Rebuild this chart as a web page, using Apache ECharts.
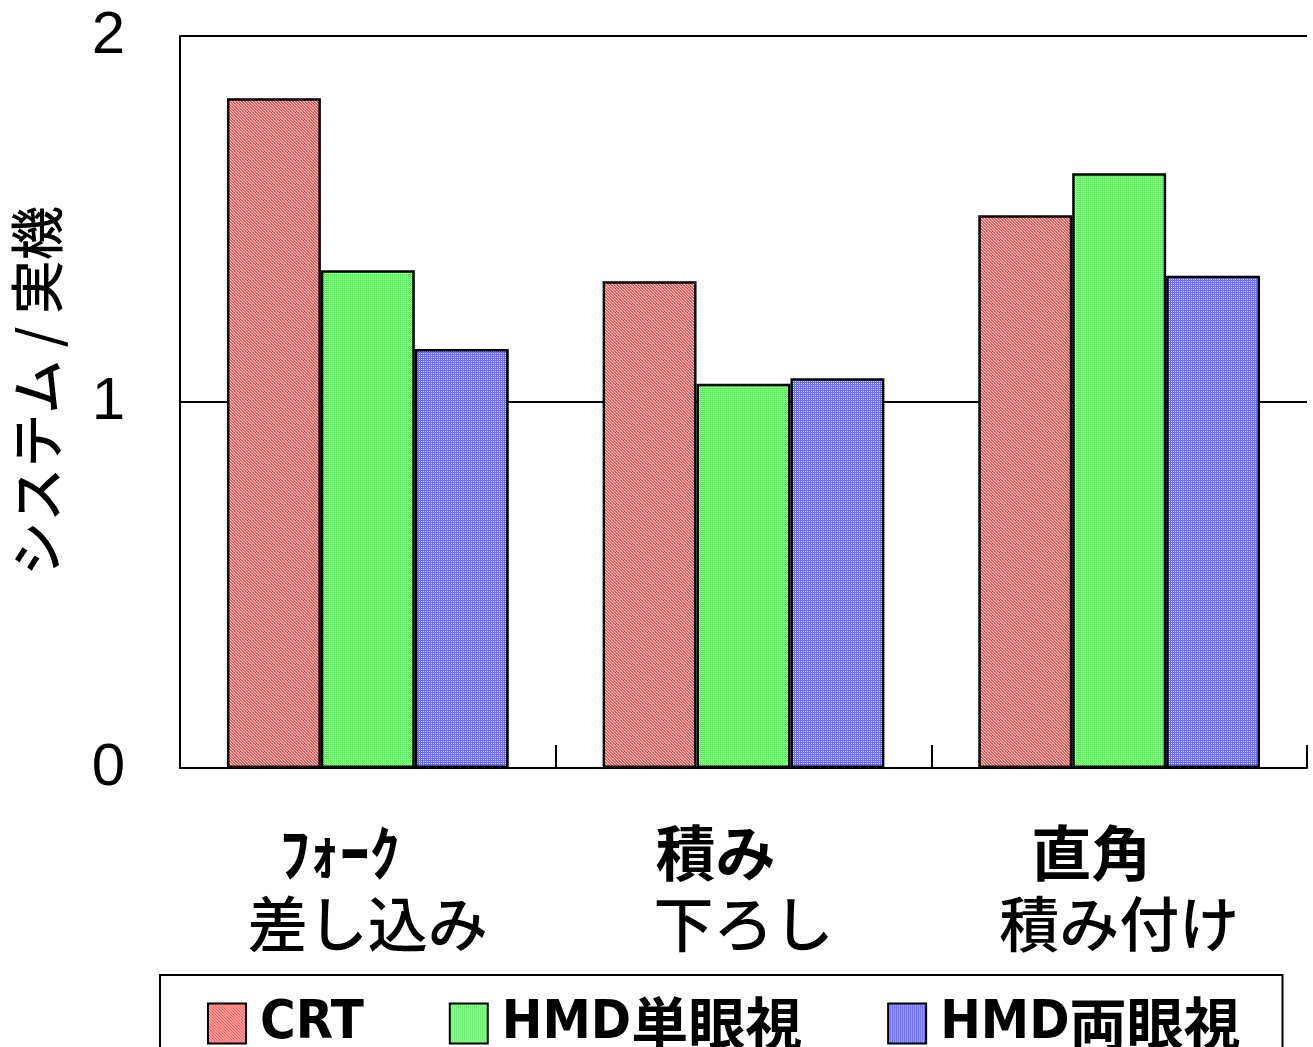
<!DOCTYPE html>
<html>
<head>
<meta charset="utf-8">
<script src="https://cdn.jsdelivr.net/npm/echarts@6/dist/echarts.min.js"></script>
<style>
  html, body { margin: 0; padding: 0; background: #fff; }
  #chart { width: 1313px; height: 1047px; }
</style>
</head>
<body>
<div id="chart"></div>
<script>
// Task categories (two-line labels)
const categoryLine1 = ['ﾌｫｰｸ', '積み', '直角'];
const categoryLine2 = ['差し込み', '下ろし', '積み付け'];

// Ratio of system time to real-machine time
const seriesNames = ['CRT', 'HMD単眼視', 'HMD両眼視'];
const crtValues = [1.83, 1.33, 1.51];
const hmdMonoValues = [1.36, 1.05, 1.625];
const hmdBinoValues = [1.145, 1.065, 1.345];

const yTicks = [0, 1, 2];

// Small dithered fill tiles for the bars
function hatchTile(kind) {
  const c = document.createElement('canvas');
  const size = 6;
  c.width = size; c.height = size;
  const ctx = c.getContext('2d');
  let fg, light;
  if (kind === 'diag') { fg = '#ff5c5c'; light = '#ffdada'; }
  else if (kind === 'green') { fg = '#66f066'; light = '#dcffdc'; }
  else { fg = '#6a6af6'; light = '#e0e0ff'; }
  for (let y = 0; y < size; y++) {
    for (let x = 0; x < size; x++) {
      let isLight;
      if (kind === 'diag') isLight = ((x - y + size) % 3) === 1;
      else isLight = (x % 2 === 1 && y % 2 === 1);
      ctx.fillStyle = isLight ? light : fg;
      ctx.fillRect(x, y, 1, 1);
    }
  }
  return { image: c, repeat: 'repeat' };
}

const fills = [hatchTile('diag'), hatchTile('green'), hatchTile('blue')];
const values = [crtValues, hmdMonoValues, hmdBinoValues];

const chart = echarts.init(document.getElementById('chart'), null, { renderer: 'canvas' });

const jpFont = '"Noto Sans CJK JP", "Noto Sans", sans-serif';
const numFont = '"Liberation Sans", Arial, sans-serif';
const narrowFont = '"DejaVu Sans Condensed", "Liberation Sans", sans-serif';

chart.setOption({
  backgroundColor: '#ffffff',
  animation: false,
  grid: { left: 180, right: 6, top: 36, bottom: 279, containLabel: false },
  legend: {
    data: seriesNames,
    left: 160,
    top: 975,
    orient: 'horizontal',
    itemWidth: 38,
    itemHeight: 40,
    itemGap: 85,
    padding: [20, 42, 20, 47],
    borderColor: '#000',
    borderWidth: 2,
    icon: 'rect',
    formatter: name => {
      const m = name.match(/^([A-Za-z]+)(.*)$/);
      return m[2] ? '{l|' + m[1] + '}{k|' + m[2] + '}' : '{l|' + name + '}';
    },
    textStyle: {
      color: '#000',
      padding: [0, 0, 0, 9],
      rich: {
        l: { fontSize: 54, fontFamily: narrowFont, fontWeight: 'bold', color: '#000' },
        k: { fontSize: 57, fontFamily: jpFont, fontWeight: 'bold', color: '#000' }
      }
    }
  },
  xAxis: {
    type: 'category',
    data: categoryLine1.map((t, i) => i),
    axisLine: { lineStyle: { color: '#000', width: 2 } },
    axisTick: { show: true, inside: true, length: 23, lineStyle: { color: '#000', width: 2 } },
    axisLabel: {
      margin: 50,
      interval: 0,
      formatter: (v, i) => '{a|' + categoryLine1[i] + '}\n{b|' + categoryLine2[i] + '}',
      rich: {
        a: { fontSize: 60, lineHeight: 71, fontFamily: jpFont, fontWeight: 'bold', color: '#000', padding: [0, 56, 0, 0] },
        b: { fontSize: 60, lineHeight: 71, fontFamily: jpFont, fontWeight: 500, color: '#000' }
      }
    }
  },
  yAxis: {
    type: 'value',
    min: yTicks[0],
    max: yTicks[yTicks.length - 1],
    interval: 1,
    name: 'システム / 実機',
    nameLocation: 'middle',
    nameRotate: 90,
    nameGap: 116,
    nameTextStyle: { fontSize: 54, fontFamily: jpFont, fontWeight: 500, color: '#000', padding: [0, 0, 0, 22] },
    axisLine: { show: true, lineStyle: { color: '#000', width: 2 } },
    axisTick: { show: false },
    splitLine: { show: true, lineStyle: { color: '#000', width: 2 } },
    axisLabel: { fontSize: 60, fontFamily: numFont, color: '#000', margin: 55 }
  },
  series: seriesNames.map((name, k) => ({
    name: name,
    type: 'bar',
    data: values[k],
    barGap: '0%',
    barCategoryGap: '25%',
    itemStyle: { color: fills[k], borderColor: '#000', borderWidth: 2.5 }
  }))
});
</script>
</body>
</html>
